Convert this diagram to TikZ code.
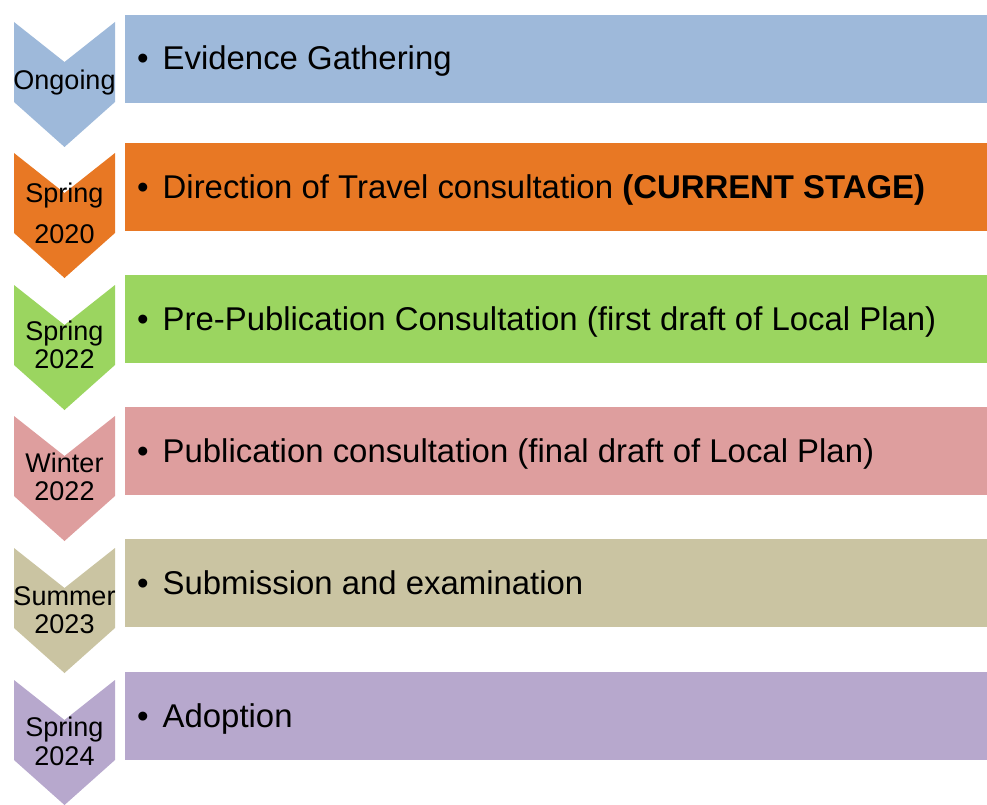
\documentclass[tikz,border=0pt]{standalone}
\usepackage{fontspec}
\setmainfont{Liberation Sans}
\definecolor{cblue}{RGB}{158,185,218}
\definecolor{corange}{RGB}{232,120,36}
\definecolor{cgreen}{RGB}{155,213,96}
\definecolor{cpink}{RGB}{222,158,158}
\definecolor{ctan}{RGB}{202,196,162}
\definecolor{cpurple}{RGB}{183,168,205}
\tikzset{
  bar/.style={rectangle, draw=none, minimum width=862pt, minimum height=88pt, anchor=north west, inner sep=0pt},
  bartext/.style={anchor=base west, inner sep=0pt, font=\fontsize{32.9}{36}\selectfont},
  lab/.style={anchor=base, inner sep=0pt, font=\fontsize{27}{28}\selectfont},
}
\newcommand{\chev}[2]{%
  \fill[#2] (14,#1) -- (64.5,#1+40) -- (115,#1) -- (115,#1+80) -- (64.5,#1+125) -- (14,#1+80) -- cycle;}
\begin{document}
\begin{tikzpicture}[x=1pt,y=-1pt]
\useasboundingbox (0,0) rectangle (987,805);
% chevrons
\chev{22}{cblue}
\chev{153}{corange}
\chev{285}{cgreen}
\chev{416}{cpink}
\chev{548}{ctan}
\chev{680}{cpurple}
% bars
\node[bar, fill=cblue] (b1) at (125,15) {};
\node[bar, fill=corange] (b2) at (125,143) {};
\node[bar, fill=cgreen] (b3) at (125,275) {};
\node[bar, fill=cpink] (b4) at (125,407) {};
\node[bar, fill=ctan] (b5) at (125,539) {};
\node[bar, fill=cpurple] (b6) at (125,672) {};
% bar texts
\node[bartext] (t1) at (137,70) {\textbullet\hspace{14pt}Evidence Gathering};
\node[bartext] (t2) at (137,198) {\textbullet\hspace{14pt}Direction of Travel consultation \textbf{(CURRENT STAGE)}};
\node[bartext] (t3) at (137,330) {\textbullet\hspace{14pt}Pre-Publication Consultation (first draft of Local Plan)};
\node[bartext] (t4) at (137,462) {\textbullet\hspace{14pt}Publication consultation (final draft of Local Plan)};
\node[bartext] (t5) at (137,594) {\textbullet\hspace{14pt}Submission and examination};
\node[bartext] (t6) at (137,727) {\textbullet\hspace{14pt}Adoption};
% chevron labels
\node[lab] (l1) at (64.5,90) {Ongoing};
\node[lab] (l2a) at (64.5,203) {Spring};
\node[lab] (l2b) at (64.5,243) {2020};
\node[lab] (l3a) at (64.5,340) {Spring};
\node[lab] (l3b) at (64.5,368) {2022};
\node[lab] (l4a) at (64.5,472) {Winter};
\node[lab] (l4b) at (64.5,500) {2022};
\node[lab] (l5a) at (64.5,605) {Summer};
\node[lab] (l5b) at (64.5,633) {2023};
\node[lab] (l6a) at (64.5,736) {Spring};
\node[lab] (l6b) at (64.5,765) {2024};
\end{tikzpicture}
\end{document}
